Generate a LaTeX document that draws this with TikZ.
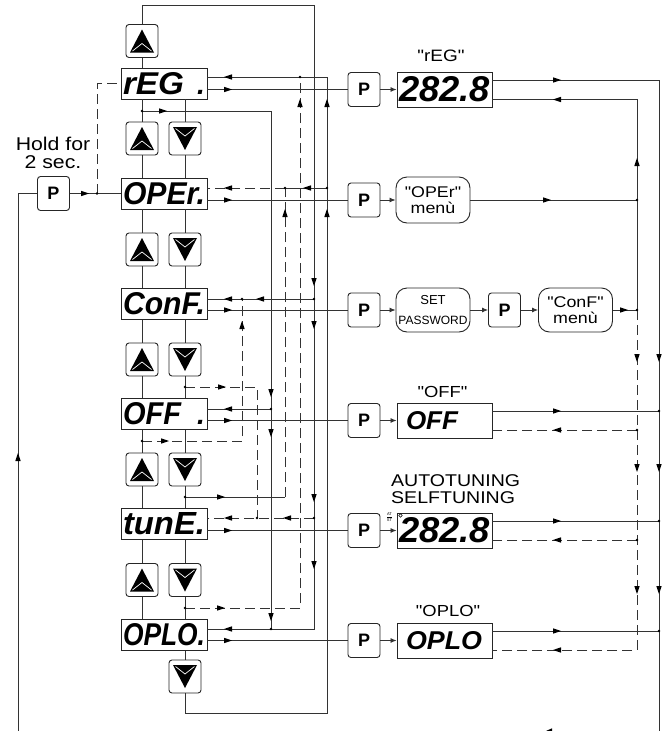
\documentclass[tikz,border=0pt]{standalone}
\usepackage{fontspec}
\setmainfont{Liberation Sans}
\newfontfamily\lblfam{Liberation Sans}[FakeStretch=1.15]
\usetikzlibrary{arrows.meta}
\newcommand\segf{\bfseries\itshape}
\newcommand\mylbl[1]{\lblfam\fontsize{#1}{#1}\selectfont}
\newcommand\segdot{{\segf\fontsize{28}{28}\selectfont .}}
\begin{document}
\begin{tikzpicture}[x=1pt,y=-1pt]
\tikzset{
  ln/.style={draw=black!80, line width=0.85pt},
  dl/.style={ln, dash pattern=on 10pt off 5pt},
  box/.style={draw=black!85, line width=0.9pt, inner sep=0pt},
  segbox/.style={box, minimum width=86pt, minimum height=31pt, text width=82pt, align=left},
  rbox/.style={box, minimum width=95pt, minimum height=35pt},
  pkey/.style={box, rounded corners=3pt, minimum width=32pt, minimum height=34pt, font=\bfseries\fontsize{18}{18}\selectfont},
  akey/.style={box, rounded corners=3pt, minimum width=32pt, minimum height=33pt},
  mbox/.style={box, rounded corners=11pt, minimum width=74pt, align=center},
  ahd/.pic={\fill[black] (4,0) -- (-4,-2.7) -- (-4,2.7) -- cycle;},
  uptri/.pic={\fill[black] (0,-11.5) -- (12,11.5) -- (-12,11.5) -- cycle;
              \draw[white, line width=0.7pt] (-9.5,10) -- (0,2.5) -- (9.5,10);},
  dntri/.pic={\fill[black] (0,11.5) -- (12,-11.5) -- (-12,-11.5) -- cycle;
              \draw[white, line width=0.7pt] (-9.5,-10) -- (0,-2.5) -- (9.5,-10);},
  jd/.pic={\fill[black] (0,0) circle (1.4pt);}
}
\fill[white] (0,0) rectangle (667,731);
\useasboundingbox (0,0) rectangle (667,731);

% ---------- left column displays ----------
\node[segbox] (reg)  at (164,83.5) {\resizebox{61pt}{22pt}{\segf rEG}\hfill\segdot};
\node[segbox] (oper) at (164,193.5) {\resizebox{82pt}{22pt}{\segf OPEr.}};
\node[segbox] (conf) at (164,304) {\resizebox{82pt}{22pt}{\segf ConF.}};
\node[segbox] (off)  at (164,414) {\resizebox{58pt}{22pt}{\segf OFF}\hfill\segdot};
\node[segbox] (tune) at (164,524) {\resizebox{82pt}{22pt}{\segf tunE.}};
\node[segbox] (oplo) at (164,635) {\resizebox{82pt}{22pt}{\segf OPLO.}};

% ---------- keys ----------
\node[akey] (u0) at (142,41) {}; \pic at (u0) {uptri};
\foreach \i/\y in {1/138.5,2/249.5,3/359.5,4/469.5,5/580}{
  \node[akey] (u\i) at (142,\y) {}; \pic at (u\i) {uptri};
  \node[akey] (d\i) at (185,\y) {}; \pic at (d\i) {dntri};
}
\node[akey] (d6) at (185,676.5) {}; \pic at (d6) {dntri};

% ---------- left P ----------
\node[pkey] (pl) at (53.5,193.5) {P};
\node[font=\mylbl{18.5}, align=center, inner sep=0pt] (hold) at (53,153) {Hold for\\2 sec.};

% ---------- right column ----------
\node[pkey] (pr1) at (364,89.5) {P};
\node[pkey] (pr2) at (364,200) {P};
\node[pkey] (pr3) at (364,310) {P};
\node[pkey] (pr4) at (364,420.5) {P};
\node[pkey] (pr5) at (364,530.5) {P};
\node[pkey] (pr6) at (364,640.5) {P};

\node[rbox] (dr1) at (444.5,89.5) {\resizebox{91pt}{25pt}{\segf 282.8}};
\node[mbox, minimum height=46pt, font=\mylbl{15.5}] (mr2) at (433,200) {"OPEr"\\menù};
\node[mbox, minimum height=44pt, font=\fontsize{12}{20}\selectfont] (sp) at (433,310) {{\fontsize{13}{13}\selectfont SET}\\PASSWORD};
\node[pkey] (pc) at (504.5,310) {P};
\node[mbox, minimum height=44pt, font=\mylbl{15.5}] (mc) at (575.5,310) {"ConF"\\menù};
\node[rbox, text width=77pt, align=left] (dr4) at (444.5,420.5) {\resizebox{52pt}{18pt}{\segf OFF}};
\node[rbox] (dr5) at (444.5,530.5) {\resizebox{91pt}{25pt}{\segf 282.8}};
\node[rbox, text width=77pt, align=left] (dr6) at (444.5,640.5) {\resizebox{76pt}{18pt}{\segf OPLO}};

\node[font=\mylbl{16.5}, inner sep=0pt] (lreg) at (441,55.5) {"rEG"};
\node[font=\mylbl{16}, inner sep=0pt] (loff) at (442.5,392) {"OFF"};
\node[font=\mylbl{16}, inner sep=0pt] (loplo) at (448,610.5) {"OPLO"};
\node[font=\mylbl{17}, align=left, anchor=west, inner sep=0pt] (latst) at (391,489) {AUTOTUNING\\SELFTUNING};
\node[font=\fontsize{4}{4}\selectfont, inner sep=0pt] (at) at (389.5,514) {AT};
\node[font=\fontsize{4}{4}\selectfont, inner sep=0pt] (st) at (389.5,520) {ST};
\draw[line width=0.3pt] (387,517) -- (392,517);
\draw[line width=0.5pt] (400.5,515.5) circle (1.8pt);

% ---------- left column vertical links ----------
\draw[ln] (u0.south) -- (reg.north -| u0.south);
\foreach \a/\k/\b in {reg/u1/oper, oper/u2/conf, conf/u3/off, off/u4/tune, tune/u5/oplo,
                      reg/d1/oper, oper/d2/conf, conf/d3/off, off/d4/tune, tune/d5/oplo}{
  \draw[ln] (\a.south -| \k.north) -- (\k.north) (\k.south) -- (\b.north -| \k.south);
}
\draw[ln] (oplo.south -| d6.north) -- (d6.north);

% ---------- left P wiring ----------
\draw[ln] (pl.west) -- (18,193.5) -- (18,731);
\draw[ln] (pl.east) -- (oper.west);
\draw[dl] (97,193.5) -- (97,83.5) -- (reg.west);
\pic at (97,193.5) {jd};
\pic at (85,193.5) {ahd};
\pic[rotate=90] at (18,457) {ahd};

% ---------- buses ----------
% top loop
\draw[ln] (u0.north) -- (142,5) -- (314,5) -- (314,629) -- (207,629);
% bus 271
\draw[ln] (142,111) -- (271,111) -- (271,629);
% bus 285
\draw[ln] (185,497) -- (285,497);
\draw[dl] (285,497) -- (285,188);
\draw[dl] (285,188) -- (207,188);
\draw[ln] (327,188) -- (285,188);
% bus 300
\draw[dl] (185,608) -- (300,608) -- (300,77);
% bus 327 (bottom loop)
\draw[ln] (d6.south) -- (185,713) -- (327,713) -- (327,77) -- (207,77);
% bus 242
\draw[dl] (142,441) -- (242,441) -- (242,299);
% bus 257
\draw[dl] (185,387) -- (257,387) -- (257,518);
% row entries
\draw[ln] (314,299) -- (207,299);
\draw[ln] (271,409) -- (207,409);
\draw[dl] (314,518) -- (207,518);

% lower row outputs
\foreach \d/\p in {reg/pr1, oper/pr2, conf/pr3, off/pr4, tune/pr5, oplo/pr6}{
  \draw[ln] (\d.east |- \p.west) -- (\p.west);
  \pic at (228,0 |- \p.west) {ahd};
}
% P -> display arrows
\foreach \p/\q in {pr1/dr1, pr2/mr2, pr3/sp, sp/pc, pc/mc, pr4/dr4, pr5/dr5, pr6/dr6}{
  \draw[ln, -{Latex[length=6pt,width=5pt]}] (\p.east) -- (\q.west);
}

% junction dots, left buses
\foreach \x/\y in {142/111, 300/77, 285/188, 327/188, 242/299, 314/299, 271/409,
                   257/518, 314/518, 271/629, 185/387, 142/441, 185/497, 185/608}{
  \pic at (\x,\y) {jd};
}
% arrowheads, left
\foreach \x/\y/\r in {228/77/180, 228/188/180, 307/188/180, 228/299/180, 260/299/180,
                      228/409/180, 228/518/180, 287/518/180, 228/629/180,
                      163/111/0, 271/393/-90, 271/433/-90, 271/617/-90,
                      221/497/0, 285/213/90, 221/608/0, 300/103/90,
                      314/282/-90, 314/325/-90, 314/498/-90, 314/565/-90,
                      327/103/90, 327/213/90, 165/441/0, 242/325/90, 222/387/0}{
  \pic[rotate=\r] at (\x,\y) {ahd};
}

% ---------- right buses ----------
\draw[ln] (492,80) -- (659,80) -- (659,731);
\draw[ln] (637,310) -- (637,99.5) -- (492,99.5);
\draw[ln] (mr2.east) -- (637,200);
\draw[ln] (mc.east) -- (637,310);
\draw[dl] (637,310) -- (637,650) -- (492,650);
\draw[ln] (492,411) -- (659,411);
\draw[dl] (637,430) -- (492,430);
\draw[ln] (492,521) -- (659,521);
\draw[dl] (637,540) -- (492,540);
\draw[ln] (492,631) -- (659,631);
\foreach \x/\y in {637/200, 637/310, 659/411, 637/430, 659/521, 637/540, 659/631}{
  \pic at (\x,\y) {jd};
}
\foreach \x/\y/\r in {557/80/0, 557/411/0, 557/521/0, 557/631/0,
                      557/99.5/180, 557/430/180, 557/540/180, 557/650/180,
                      547/200/0, 624/310/0,
                      637/162/90, 637/358/-90, 637/468/-90, 637/590/-90,
                      659/358/-90, 659/468/-90, 659/590/-90}{
  \pic[rotate=\r] at (\x,\y) {ahd};
}
% small mark at the bottom edge
\fill[black] (546,731) -- (552,728.3) -- (552,731) -- cycle;
\end{tikzpicture}
\end{document}
